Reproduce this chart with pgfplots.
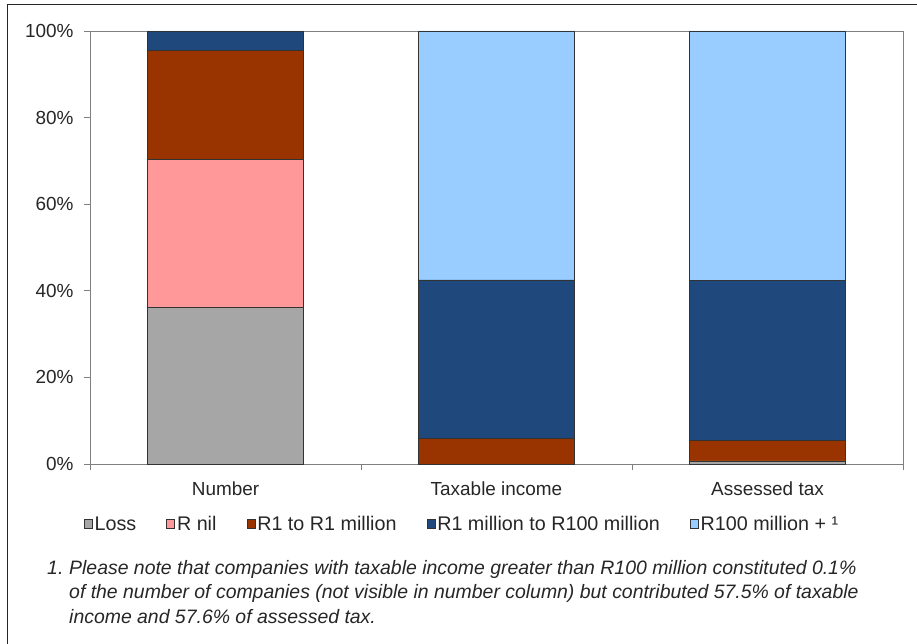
\documentclass[border=0pt]{standalone}
\usepackage{fontspec}
\setmainfont{Liberation Sans}
\usepackage{pgfplots}
\pgfplotsset{compat=1.18}
\definecolor{cLoss}{HTML}{A6A6A6}
\definecolor{cNil}{HTML}{FF9999}
\definecolor{cR1}{HTML}{993300}
\definecolor{cR1m}{HTML}{1F497D}
\definecolor{cR100}{HTML}{99CCFF}
\definecolor{axcol}{HTML}{7F7F7F}
\definecolor{txt}{HTML}{262626}
\begin{document}
\begin{tikzpicture}
\useasboundingbox (-90bp,-180bp) rectangle (827bp,464bp);
\draw[black!85, line width=1bp] (-82bp,-180bp) -- (-82bp,459bp) -- (827bp,459bp);
\begin{axis}[
  at={(0,0)}, anchor=south west,
  width=813bp, height=433bp, scale only axis,
  ybar stacked, bar width=156bp,
  xmin=-0.5, xmax=2.5, ymin=0, ymax=100,
  axis line style={draw=axcol, line width=0.9bp},
  tick style={draw=axcol, line width=0.9bp},
  tick align=outside, tick pos=left,
  major tick length=6bp,
  xtick={-0.5,0.5,1.5,2.5}, xticklabels={},
  extra x ticks={0,1,2},
  extra x tick labels={Number,Taxable income,Assessed tax},
  extra x tick style={major tick length=0pt, tick label style={yshift=-14bp}},
  ytick={0,20,40,60,80,100},
  yticklabels={0\%,20\%,40\%,60\%,80\%,100\%},
  ticklabel style={font=\fontsize{19}{22}\selectfont, text=txt},
  yticklabel style={xshift=-7bp},
  every axis plot/.append style={draw=black!80, line width=0.8bp},
  legend columns=5,
  legend style={draw=none, fill=none, at={(0.4576,-0.1386)}, anchor=center,
    font=\fontsize{19.8}{22}\selectfont, text=txt,
    /tikz/every even column/.append style={column sep=28bp},
    cells={inner xsep=2bp}},
  legend image code/.code={\draw[#1, draw=black!80, line width=0.8bp] (0bp,-4.5bp) rectangle (8bp,4.5bp);},
]
\addplot[fill=cLoss] coordinates {(0,36.1) (1,0) (2,0.7)};
\addplot[fill=cNil] coordinates {(0,34.3) (1,0) (2,0)};
\addplot[fill=cR1] coordinates {(0,25.2) (1,5.8) (2,4.8)};
\addplot[fill=cR1m] coordinates {(0,4.3) (1,36.7) (2,36.9)};
\addplot[fill=cR100] coordinates {(0,0.1) (1,57.5) (2,57.6)};
\legend{Loss,R nil,R1 to R1 million,R1 million to R100 million,R100 million + ¹}
\draw[axcol, line width=0.9bp] (rel axis cs:0,1) -- (rel axis cs:1,1) -- (rel axis cs:1,0);
\end{axis}
\begin{scope}[every node/.style={inner sep=0pt, anchor=base west, text=txt, font=\fontsize{19.5}{22}\selectfont\itshape}]
\node at (-43bp,-110bp) {1.};
\node at (-21bp,-110bp) {Please note that companies with taxable income greater than R100 million constituted 0.1\%};
\node at (-21bp,-134.5bp) {of the number of companies (not visible in number column) but contributed 57.5\% of taxable};
\node at (-21bp,-159bp) {income and 57.6\% of assessed tax.};
\end{scope}
\end{tikzpicture}
\end{document}
